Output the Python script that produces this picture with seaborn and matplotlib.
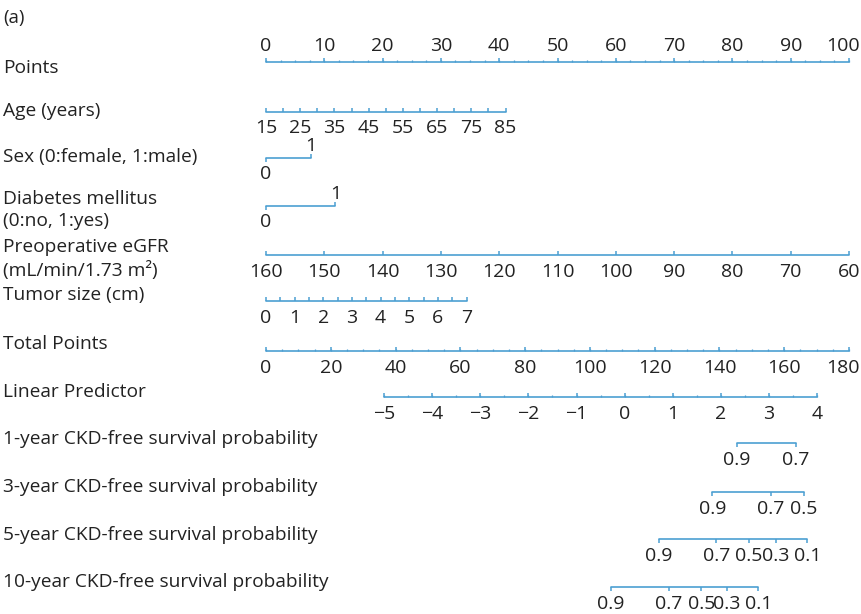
import numpy as np
import pandas as pd
import matplotlib
matplotlib.use("Agg")
import matplotlib.pyplot as plt
import matplotlib.transforms as mtransforms
import seaborn as sns

# ---------------- data ----------------
points_ticks = [0, 10, 20, 30, 40, 50, 60, 70, 80, 90, 100]

age_values = [15, 20, 25, 30, 35, 40, 45, 50, 55, 60, 65, 70, 75, 80, 85]
age_labels = [15, 25, 35, 45, 55, 65, 75, 85]
age_range = [15, 85]
age_points_range = [0, 41.1]

sex_values = [0, 1]
sex_points = [0, 7.65]

dm_values = [0, 1]
dm_points = [0, 11.9]

egfr_values = [160, 150, 140, 130, 120, 110, 100, 90, 80, 70, 60]
egfr_range = [60, 160]
egfr_points_range = [100, 0]

tumor_values = [0, 1, 2, 3, 4, 5, 6, 7]
tumor_points_range = [0, 34.4]

total_ticks = [0, 20, 40, 60, 80, 100, 120, 140, 160, 180]

lp_values = [-5, -4, -3, -2, -1, 0, 1, 2, 3, 4]
lp_total_range = [36.4, 170.2]

surv1_labels = [0.9, 0.7]
surv1_total = [145.4, 163.6]
surv3_labels = [0.9, 0.7, 0.5]
surv3_total = [137.8, 155.9, 166.0]
surv5_labels = [0.9, 0.7, 0.5, 0.3, 0.1]
surv5_total = [121.2, 139.0, 149.0, 157.5, 167.1]
surv10_labels = [0.9, 0.7, 0.5, 0.3, 0.1]
surv10_total = [106.4, 124.3, 134.4, 142.3, 152.0]

row_names = ["Points", "Age (years)", "Sex (0:female, 1:male)",
             "Diabetes mellitus\n(0:no, 1:yes)",
             "Preoperative eGFR\n(mL/min/1.73 m\u00b2)", "Tumor size (cm)",
             "Total Points", "Linear Predictor",
             "1-year CKD-free survival probability",
             "3-year CKD-free survival probability",
             "5-year CKD-free survival probability",
             "10-year CKD-free survival probability"]

# ---------------- style ----------------
sns.set_theme(style="white")
plt.rcParams['font.family'] = ['Open Sans', 'DejaVu Sans']
LINE = "#4c9fd2"
TXT = "#222222"
FS_TICK = 14.0
FS_NAME = 13.8

W, H = 861, 614
X0, X100 = 266, 849
PPP = (X100 - X0) / 100.0  # pixels per point

fig = plt.figure(figsize=(W / 100, H / 100), dpi=100)
ax = fig.add_axes([0, 0, 1, 1])
ax.set_xlim(-X0 / PPP, (W - X0) / PPP)
ax.set_ylim(H, 0)
ax.axis("off")

left = mtransforms.blended_transform_factory(ax.transAxes, ax.transData)


def tp2pts(v):
    return np.asarray(v, dtype=float) * 100.0 / 180.0


def scale_line(xs, y):
    df = pd.DataFrame({"x": [min(xs), max(xs)], "y": [y, y]})
    sns.lineplot(data=df, x="x", y="y", ax=ax, color=LINE, lw=1.2,
                 estimator=None, sort=False, legend=False)


def ticks(xs, y, length, up=True, lw=1.1):
    d = -length if up else length
    ax.vlines(xs, y, y + d, color=LINE, lw=lw)


def labels(xs, texts, y, last_shift_px=0.0):
    n = len(texts)
    for i, (x, t) in enumerate(zip(xs, texts)):
        if i == n - 1:
            x = x + last_shift_px / PPP
        ax.text(x, y, t, ha="center", va="center", fontsize=FS_TICK, color=TXT)


def fmt(v):
    s = f"{v:g}"
    return s.replace("-", "\u2212")


row_y = [62, 112, 158, 206, 255, 301, 351, 397, 443, 492, 539, 587]
name_y = [68, 111, 157, 210, 259, 295, 344, 392, 439, 487, 535, 582]

ax.text(3 / W, 18, "(a)", transform=left, ha="left", va="center",
        fontsize=FS_NAME - 0.5, color=TXT)
for name, yy in zip(row_names, name_y):
    ax.text(3 / W, yy, name, transform=left, ha="left", va="center",
            fontsize=FS_NAME, color=TXT, linespacing=1.28)

# Points
y = row_y[0]
scale_line(points_ticks, y)
ticks(points_ticks, y, 4, up=True)
ticks(np.arange(0, 100.1, 2.5), y, 2, up=True, lw=0.9)
labels(points_ticks, [fmt(v) for v in points_ticks], y - 16, last_shift_px=-6)

# Age
y = row_y[1]
age_x = np.interp(age_values, age_range, age_points_range)
scale_line(age_x, y)
ticks(age_x, y, 4, up=True)
labels(np.interp(age_labels, age_range, age_points_range),
       [fmt(v) for v in age_labels], y + 16)

# Sex
y = row_y[2]
scale_line(sex_points, y)
ticks(sex_points[:1], y, 4, up=False)
ticks(sex_points[1:], y, 4, up=True)
labels(sex_points[:1], [fmt(sex_values[0])], y + 16)
labels(sex_points[1:], [fmt(sex_values[1])], y - 12)

# Diabetes
y = row_y[3]
scale_line(dm_points, y)
ticks(dm_points[:1], y, 4, up=False)
ticks(dm_points[1:], y, 4, up=True)
labels(dm_points[:1], [fmt(dm_values[0])], y + 16)
labels(dm_points[1:], [fmt(dm_values[1])], y - 12)

# eGFR
y = row_y[4]
egfr_x = np.interp(egfr_values, egfr_range, egfr_points_range)
scale_line(egfr_x, y)
ticks(egfr_x, y, 4, up=True)
labels(egfr_x, [fmt(v) for v in egfr_values], y + 17)

# Tumor size
y = row_y[5]
tum_x = np.interp(tumor_values, [tumor_values[0], tumor_values[-1]], tumor_points_range)
tum_minor = np.interp(np.arange(0, 7.01, 0.5), [tumor_values[0], tumor_values[-1]], tumor_points_range)
scale_line(tum_x, y)
ticks(tum_minor, y, 4, up=True)
labels(tum_x, [fmt(v) for v in tumor_values], y + 17)

# Total points
y = row_y[6]
tot_x = tp2pts(total_ticks)
scale_line(tot_x, y)
ticks(tot_x, y, 4, up=True)
ticks(tp2pts(np.arange(0, 180.1, 5)), y, 2, up=True, lw=0.9)
labels(tot_x, [fmt(v) for v in total_ticks], y + 17, last_shift_px=-6)

# Linear predictor
y = row_y[7]
lp_x = tp2pts(np.interp(lp_values, [lp_values[0], lp_values[-1]], lp_total_range))
lp_minor = tp2pts(np.interp(np.arange(-5, 4.01, 0.5), [lp_values[0], lp_values[-1]], lp_total_range))
scale_line(lp_x, y)
ticks(lp_minor, y, 2, up=True, lw=0.9)
ticks(lp_x, y, 4, up=True)
labels(lp_x, [fmt(v) for v in lp_values], y + 17)

# Survival probability scales
for yy, labs, tot in [(row_y[8], surv1_labels, surv1_total),
                      (row_y[9], surv3_labels, surv3_total),
                      (row_y[10], surv5_labels, surv5_total),
                      (row_y[11], surv10_labels, surv10_total)]:
    xs = tp2pts(tot)
    scale_line(xs, yy)
    ticks(xs, yy, 4, up=False)
    labels(xs, [fmt(v) for v in labs], yy + 17)

fig.savefig("out.png", dpi=100, facecolor="white")
